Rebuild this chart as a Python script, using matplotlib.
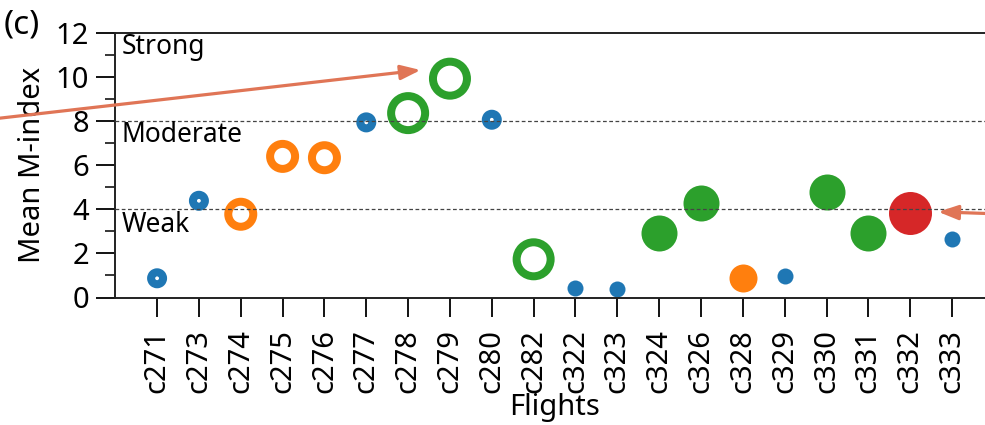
import matplotlib
matplotlib.use("Agg")
import numpy as np
from matplotlib import pyplot as plt

plt.rcParams['font.family'] = ['Noto Sans', 'DejaVu Sans']

flights = ['c271', 'c273', 'c274', 'c275', 'c276', 'c277', 'c278', 'c279', 'c280', 'c282',
           'c322', 'c323', 'c324', 'c326', 'c328', 'c329', 'c330', 'c331', 'c332', 'c333']
mean_m_index = [0.87, 4.38, 3.77, 6.39, 6.33, 7.93, 8.35, 9.91, 8.05, 1.73,
                0.42, 0.37, 2.91, 4.30, 0.90, 0.98, 4.77, 2.91, 3.82, 2.67]
# 0 = blue, 1 = orange, 2 = green, 3 = red
category = [0, 0, 1, 1, 1, 0, 2, 2, 0, 2,
            0, 0, 2, 2, 1, 0, 2, 2, 3, 0]
hollow = [True] * 10 + [False] * 10

thresholds = [8, 4]
strength_labels = ['Strong', 'Moderate', 'Weak']
strength_y = [11.35, 7.35, 3.3]

colors = ['#1f77b4', '#ff7f0e', '#2ca02c', '#d62728']
# marker diameters in pixels (dpi 100)
filled_px = [16, 28, 36, 43]
ring_px = [12, 25, 34, 34]
ring_lw_px = 8
px2pt = 72 / 100

fig = plt.figure(figsize=(9.85, 4.25), dpi=100)
ax = fig.add_axes([0.117, 0.3, 0.892, 0.6235])

x = np.arange(len(flights))
for i, (xi, yi) in enumerate(zip(x, mean_m_index)):
    c = colors[category[i]]
    if hollow[i]:
        d = ring_px[category[i]] * px2pt
        ax.scatter(xi, yi, s=d ** 2, facecolors='none', edgecolors=c,
                   linewidths=ring_lw_px * px2pt, zorder=2)
    else:
        d = filled_px[category[i]] * px2pt
        ax.scatter(xi, yi, s=d ** 2, color=c, linewidths=0, zorder=2)

for t in thresholds:
    ax.axhline(t, color='#444444', lw=0.9, ls=(0, (3, 2)), zorder=3)
for lab, ty in zip(strength_labels, strength_y):
    ax.text(-0.85, ty, lab, fontsize=19, va='center', ha='left')

ax.set_xlim(-1, 20)
ax.set_ylim(0, 12)
ax.set_xticks(x)
ax.set_xticklabels(flights, rotation=90)
ax.set_yticks(np.arange(0, 13, 2))
ax.set_yticks(np.arange(1, 12, 2), minor=True)
ax.tick_params(axis='both', which='major', labelsize=21, length=14, width=1.3, pad=5)
ax.tick_params(axis='x', which='major', pad=9)
ax.tick_params(axis='y', which='minor', length=7, width=1.1)
for s in ax.spines.values():
    s.set_linewidth(1.4)
    s.set_color('#222222')

ax.set_xlabel('Flights', fontsize=21, labelpad=0)
ax.set_ylabel('Mean M-index', fontsize=21, labelpad=6)

arrow_color = '#e07556'
style = '-|>,head_length=0.6,head_width=0.22'
ax.annotate('', xy=(6.3, 10.3), xycoords='data',
            xytext=(-60, 300), textcoords='figure pixels',
            arrowprops=dict(arrowstyle=style, color=arrow_color, lw=2.3,
                            mutation_scale=20, shrinkA=0, shrinkB=0),
            annotation_clip=False)
ax.annotate('', xy=(18.67, 3.88), xycoords='data',
            xytext=(1030, 210), textcoords='figure pixels',
            arrowprops=dict(arrowstyle=style, color=arrow_color, lw=2.3,
                            mutation_scale=20, shrinkA=0, shrinkB=0),
            annotation_clip=False)

fig.text(0.004, 0.94, '(c)', fontsize=24, va='center', ha='left')

fig.savefig('out.png', dpi=100)
